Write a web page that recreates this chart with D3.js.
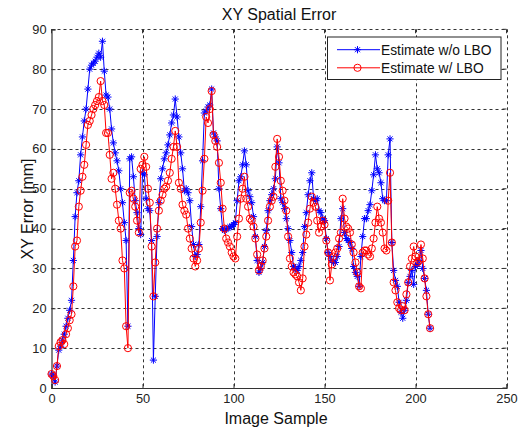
<!DOCTYPE html>
<html><head><meta charset="utf-8">
<script src="https://cdn.jsdelivr.net/npm/d3@7"></script>
<style>
body{margin:0;background:#fff;}
svg{display:block;font-family:"Liberation Sans",Arial,sans-serif;}
</style></head>
<body><svg id="c" width="518" height="431"></svg>
<script>
const title = "XY Spatial Error";
const xLabel = "Image Sample";
const yLabel = "XY Error [mm]";
const seriesNames = ["Estimate w/o LBO", "Estimate w/ LBO"];
const xTicks = [0, 50, 100, 150, 200, 250];
const yTicks = [0, 10, 20, 30, 40, 50, 60, 70, 80, 90];

const blueValues = [
3.5,3,1.5,5.5,9.5,10.5,12,13.5,15.5,17.5,
19.5,22,32,43,49,52,58.5,63,67,70,
75,80,81,81.5,82,83,84,83,87,79.5,
73.5,73,70,65,61.5,59,57,54.5,50,46.5,
41.5,37,15.5,57.5,58,53,47,44,40,38.5,
54,53.5,47.5,45,44.5,37,7,23,38,46.5,
52.5,55,57.5,59,61,63.5,66.5,68.5,72.5,68,
63,59,55,49.5,50,49,47,40.5,36,33,
33.5,36,45.5,57,69,69.5,70.5,71,75,64,
63,62,50,45,40,39.5,40,40,40.5,40.5,
41,41.5,47,52,53,56,59.5,56,49.5,48,
46.5,43,38,32,29,30,31.5,35.5,39.5,44.5,
47,48.5,50,52.5,60.5,56.5,47.5,46.5,45,42.5,
40,37,34,30.5,30,29.5,30.5,32,34,40.5,
44,48.5,52,54,47.5,47,47.5,44.5,44,42.5,
42,37.5,34,33,32,31.5,31.5,33,35.5,42.5,
45,39,37.5,37,36.5,35,30.5,29,28,25.5,
33,38,42.5,42.5,44.5,46,49.5,53.5,58.5,55,
54,51.5,47.5,47,47,58.5,62.5,36.5,29.5,27,
25.5,21.5,19,17.5,19.5,22,26.5,28,29.5,26,
30.5,31,32,34.5,30,27.5,24.5,18.5,15];

const redValues = [
3.5,3,2,5.5,10.5,11.5,12,11,13.5,15,
17,18.5,25.5,35.5,37,45.5,49.5,53,56,61,
66,67,68.5,70,71,72,73,77,72,71,
64,64,58.5,52.5,54,50,46,42,40,32,
30,15.5,10,49,49.5,47.5,45.5,42,39,55,
56,58,55.5,50,46.5,35.5,23,31.5,40,44.5,
47,48.5,50,50.5,52,54,57.5,60.5,64.5,60.5,
51.5,50,46,44.5,43.5,40,37.5,35,32.5,30.5,
32,35,41.5,49.5,57.5,68,66.5,70,74.5,63.5,
62,60.5,56.5,51.5,45,40,37.5,36.5,35.5,34,
33,32.5,38,42.5,47.5,50,53,47.5,45.5,42.5,
42,40.5,37.5,33.5,29.5,30.5,32,35,38,42,
45.5,47,48,55.5,62.5,58,52,49.5,47,44.5,
38,32.5,30.5,29,28.5,28,26.5,24.5,27.5,35.5,
38.5,41.5,45,48,46.5,45.5,42,39,40.5,42,
41,37,34,27,31,33,34,35,37.5,39,
47.5,42.5,40.5,40,39,36,34,31.5,29,25.5,
25,34,34.5,34.5,33.5,33,35,37.5,41.5,45.5,
42.5,41.5,39,35,34.5,47,54,36.5,26.5,24.5,
21.5,20,19.5,20.5,19.5,23.5,26.5,30.5,32.5,35.5,
33,31.5,32,36,32.5,27.5,23,18.5,15];

const svg = d3.select("#c");
const L = 51.5, R = 506.5, T = 29.3, B = 388;
const x = d3.scaleLinear().domain([0, 250]).range([L, R]);
const y = d3.scaleLinear().domain([0, 90]).range([B, T]);

// grid (including top and right edges, which appear dashed in the reference)
const g = svg.append("g");
g.selectAll("line.gx").data(xTicks.slice(1)).enter().append("line")
  .attr("x1", d => Math.round(x(d)) + 0.5).attr("x2", d => Math.round(x(d)) + 0.5)
  .attr("y1", T).attr("y2", B)
  .attr("stroke", "#333").attr("stroke-width", 1).attr("stroke-dasharray", "3,3");
g.selectAll("line.gy").data(yTicks.slice(1)).enter().append("line")
  .attr("y1", d => Math.round(y(d)) + 0.5).attr("y2", d => Math.round(y(d)) + 0.5)
  .attr("x1", L).attr("x2", R)
  .attr("stroke", "#333").attr("stroke-width", 1).attr("stroke-dasharray", "3,3");

// axes
const xAxis = d3.axisBottom(x).tickValues(xTicks).tickSize(-4).tickPadding(6);
const yAxis = d3.axisLeft(y).tickValues(yTicks).tickSize(-4).tickPadding(5);
const ax = svg.append("g").attr("transform", `translate(0,${B})`).call(xAxis);
const ay = svg.append("g").attr("transform", `translate(${L},0)`).call(yAxis);
[ax, ay].forEach(a => {
  a.select(".domain").attr("stroke", "#333").attr("stroke-width", 1.2);
  a.selectAll("line").attr("stroke", "#333");
  a.selectAll("text").attr("font-size", 12.8).attr("fill", "#222")
    .attr("font-family", "'Liberation Sans',Arial,sans-serif");
});
// top/right ticks
svg.append("g").selectAll("line").data(xTicks).enter().append("line")
  .attr("x1", d => x(d)).attr("x2", d => x(d)).attr("y1", T).attr("y2", T + 4).attr("stroke", "#333");
svg.append("g").selectAll("line").data(yTicks).enter().append("line")
  .attr("y1", d => y(d)).attr("y2", d => y(d)).attr("x1", R).attr("x2", R - 4).attr("stroke", "#333");

// series
const line = d3.line().x((d, i) => x(i)).y(d => y(d));
const plot = svg.append("g");

function starPath(s) {
  const a = s * 0.7;
  return `M${-s},0L${s},0M0,${-s}L0,${s}M${-a},${-a}L${a},${a}M${-a},${a}L${a},${-a}`;
}

plot.append("path").datum(blueValues).attr("d", line)
  .attr("fill", "none").attr("stroke", "#0000ff").attr("stroke-width", 1);
plot.append("g").selectAll("path").data(blueValues).enter().append("path")
  .attr("transform", (d, i) => `translate(${x(i)},${y(d)})`)
  .attr("d", starPath(3.6)).attr("stroke", "#0000ff").attr("stroke-width", 1).attr("fill", "none");

plot.append("path").datum(redValues).attr("d", line)
  .attr("fill", "none").attr("stroke", "#ff0000").attr("stroke-width", 1);
plot.append("g").selectAll("circle").data(redValues).enter().append("circle")
  .attr("cx", (d, i) => x(i)).attr("cy", d => y(d)).attr("r", 3.6)
  .attr("fill", "none").attr("stroke", "#ff0000").attr("stroke-width", 1);

// legend
const lg = svg.append("g");
lg.append("rect").attr("x", 327.5).attr("y", 37).attr("width", 173.5).attr("height", 42.5)
  .attr("fill", "#fff").attr("stroke", "#222").attr("stroke-width", 1);
const rows = [
  {name: seriesNames[0], color: "#0000ff", type: "star", yy: 49.7},
  {name: seriesNames[1], color: "#ff0000", type: "circle", yy: 67.8}
];
rows.forEach(r => {
  lg.append("line").attr("x1", 337).attr("x2", 380).attr("y1", r.yy).attr("y2", r.yy)
    .attr("stroke", r.color).attr("stroke-width", 1);
  if (r.type === "star") {
    lg.append("path").attr("transform", `translate(357.5,${r.yy})`).attr("d", starPath(3.6))
      .attr("stroke", r.color).attr("fill", "none");
  } else {
    lg.append("circle").attr("cx", 357.5).attr("cy", r.yy).attr("r", 3.6)
      .attr("stroke", r.color).attr("fill", "none");
  }
  lg.append("text").attr("x", 381).attr("y", r.yy + 5).attr("font-size", 13.8)
    .attr("fill", "#111").text(r.name);
});

// titles
svg.append("text").attr("x", (L + R) / 2).attr("y", 20).attr("text-anchor", "middle")
  .attr("font-size", 16).attr("fill", "#111").text(title);
svg.append("text").attr("x", 276).attr("y", 424).attr("text-anchor", "middle")
  .attr("font-size", 16).attr("fill", "#111").text(xLabel);
svg.append("text").attr("transform", `translate(33,209) rotate(-90)`)
  .attr("text-anchor", "middle").attr("font-size", 16).attr("fill", "#111").text(yLabel);
</script>
</body></html>
